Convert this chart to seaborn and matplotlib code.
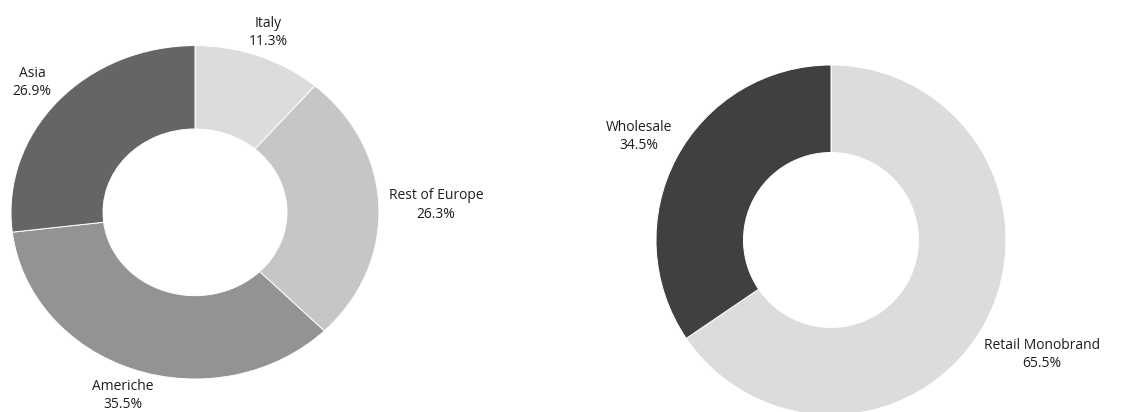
import matplotlib
matplotlib.use("Agg")
import matplotlib.pyplot as plt
import seaborn as sns

# Revenue split by region
regions = ["Italy", "Rest of Europe", "Americhe", "Asia"]
region_share = [11.3, 26.3, 35.5, 26.9]
region_colors = ["#dcdcdb", "#c6c6c5", "#939393", "#666465"]

# Revenue split by channel
channels = ["Retail Monobrand", "Wholesale"]
channel_share = [65.5, 34.5]
channel_colors = ["#dddcdb", "#404040"]

sns.set_theme(style="white")
plt.rcParams["font.family"] = ["Open Sans", "DejaVu Sans"]

W, H = 1132, 412
fig = plt.figure(figsize=(W / 100, H / 100), dpi=100)
fig.patch.set_facecolor("white")

HALF = 1.45


def donut_axes(cx, cy, rx, ry):
    """Axes whose unit circle spans rx by ry px, centred at (cx, cy) px from top-left."""
    hx, hy = HALF * rx, HALF * ry
    left = (cx - hx) / W
    bottom = (H - cy - hy) / H
    return fig.add_axes([left, bottom, 2 * hx / W, 2 * hy / H])


def draw_donut(ax, values, colors, names, label_pos):
    wedges, _ = ax.pie(
        values, colors=colors, startangle=90, counterclock=False,
        radius=1.0, wedgeprops=dict(width=0.5, edgecolor="white", linewidth=0.7),
    )
    ax.set_xlim(-HALF, HALF)
    ax.set_ylim(-HALF, HALF)
    ax.set_aspect("auto")
    ax.axis("off")
    for w in wedges:
        w.set_clip_on(False)
    for name, val in zip(names, values):
        x, y = label_pos[name]
        ax.text(x, y, f"{name}\n{val:.1f}%", ha="center", va="center",
                multialignment="center", fontsize=10, color="#1e1e1e",
                linespacing=1.3)


ax1 = donut_axes(195, 212.3, 184, 166.7)
draw_donut(ax1, region_share, region_colors, regions, {
    "Italy": (0.40, 1.08),
    "Rest of Europe": (1.31, 0.044),
    "Americhe": (-0.39, -1.10),
    "Asia": (-0.886, 0.78),
})

ax2 = donut_axes(831, 240, 175, 175)
draw_donut(ax2, channel_share, channel_colors, channels, {
    "Retail Monobrand": (1.206, -0.654),
    "Wholesale": (-1.10, 0.59),
})

fig.savefig("out.png", dpi=100, facecolor="white")
